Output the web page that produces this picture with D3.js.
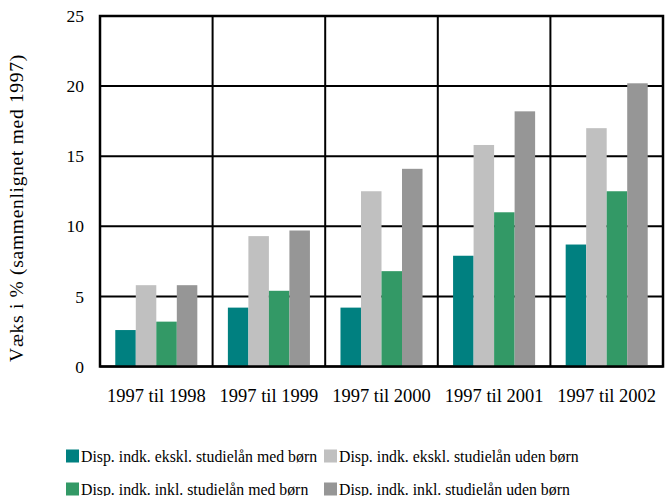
<!DOCTYPE html>
<html><head><meta charset="utf-8">
<script src="https://cdn.jsdelivr.net/npm/d3@7"></script>
<style>body{margin:0;background:#fff}svg{display:block}</style>
</head><body>
<svg id="c" width="669" height="496"></svg>
<script>
const categories = ["1997 til 1998","1997 til 1999","1997 til 2000","1997 til 2001","1997 til 2002"];
const seriesNames = [
  "Disp. indk. ekskl. studielån med børn",
  "Disp. indk. ekskl. studielån uden børn",
  "Disp. indk. inkl. studielån med børn",
  "Disp. indk. inkl. studielån uden børn"
];
const eksklMed  = [2.6, 4.2, 4.2, 7.9, 8.7];
const eksklUden = [5.8, 9.3, 12.5, 15.8, 17.0];
const inklMed   = [3.2, 5.4, 6.8, 11.0, 12.5];
const inklUden  = [5.8, 9.7, 14.1, 18.2, 20.2];
const yTicks = [0, 5, 10, 15, 20, 25];
const colors = ["#008080", "#c0c0c0", "#339966", "#969696"];
const yLabel = "Væks i % (sammenlignet med 1997)";

const seriesValues = [eksklMed, eksklUden, inklMed, inklUden];
const FONT = '"Liberation Serif"';
const svg = d3.select("#c");
const L = 100, R = 663, T = 16, B = 366.5;

const x0 = d3.scaleBand().domain(categories).range([L, R]).paddingInner(0).paddingOuter(0);
const x1 = d3.scaleBand().domain(d3.range(seriesNames.length)).range([0, x0.bandwidth()]).paddingInner(0).paddingOuter(0.745);
const y = d3.scaleLinear().domain([0, 25]).range([B, T]);

svg.append("g").selectAll("line").data(yTicks).join("line")
  .attr("x1", L).attr("x2", R).attr("y1", d => y(d)).attr("y2", d => y(d))
  .attr("stroke", "#000").attr("stroke-width", 2);
svg.append("g").selectAll("line").data(categories.slice(1)).join("line")
  .attr("x1", d => x0(d)).attr("x2", d => x0(d)).attr("y1", T).attr("y2", B)
  .attr("stroke", "#000").attr("stroke-width", 2);

const groups = svg.append("g").selectAll("g").data(categories).join("g")
  .attr("transform", d => `translate(${x0(d)},0)`);
groups.selectAll("rect").data((d, i) => seriesValues.map((s, k) => ({k, v: s[i]}))).join("rect")
  .attr("x", d => x1(d.k)).attr("width", x1.bandwidth())
  .attr("y", d => y(d.v)).attr("height", d => y(0) - y(d.v))
  .attr("fill", d => colors[d.k]);

svg.append("rect").attr("x", L).attr("y", T).attr("width", R - L).attr("height", B - T)
  .attr("fill", "none").attr("stroke", "#000").attr("stroke-width", 2.5);

const yAxis = d3.axisLeft(y).tickValues(yTicks).tickSize(0).tickPadding(16);
svg.append("g").attr("transform", `translate(${L},0)`).call(yAxis)
  .call(g => g.select(".domain").remove())
  .selectAll("text").style("font-family", FONT).style("font-size", "17.5px").attr("fill", "#000");

const xAxis = d3.axisBottom(x0).tickSize(0).tickPadding(22);
svg.append("g").attr("transform", `translate(0,${B})`).call(xAxis)
  .call(g => g.select(".domain").remove())
  .selectAll("text").style("font-family", FONT).style("font-size", "18.5px").attr("fill", "#000");

svg.append("text").attr("transform", `translate(23,208) rotate(-90)`)
  .attr("text-anchor", "middle").style("font-family", FONT).style("font-size", "19.5px")
  .style("letter-spacing", "0.7px")
  .text(yLabel);

const legPos = [[66, 456], [324, 456], [66, 489], [324, 489]];
const leg = svg.append("g").selectAll("g").data(seriesNames).join("g")
  .attr("transform", (d, i) => `translate(${legPos[i][0]},${legPos[i][1]})`);
leg.append("rect").attr("x", 0).attr("y", -6.5).attr("width", 13).attr("height", 13)
  .attr("fill", (d, i) => colors[i]);
leg.append("text").attr("x", 15).attr("y", 0).attr("dy", "0.35em")
  .style("font-family", FONT).style("font-size", "15.8px").text(d => d);
</script>
</body></html>
